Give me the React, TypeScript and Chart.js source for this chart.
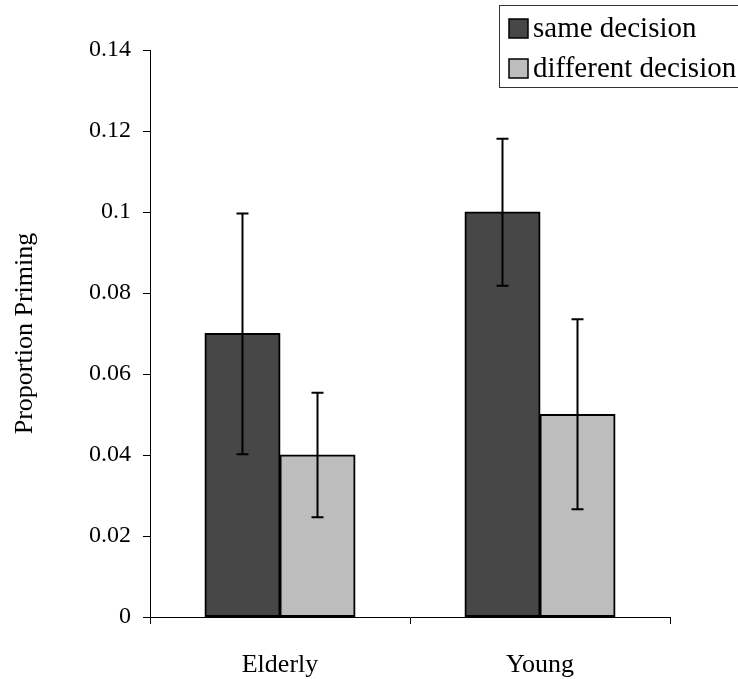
import React, { useEffect, useRef } from "react";
import { Chart, registerables } from "chart.js";

Chart.register(...registerables);

const categories = ["Elderly", "Young"];
const seriesNames = ["same decision", "different decision"];
const sameDecision = [0.07, 0.1];
const differentDecision = [0.04, 0.05];
const sameErrLow = [0.0402, 0.0818];
const sameErrHigh = [0.0996, 0.1181];
const diffErrLow = [0.0246, 0.0266];
const diffErrHigh = [0.0554, 0.0735];
const yMin = 0;
const yMax = 0.14;
const yStep = 0.02;

const DARK = "#474747";
const LIGHT = "#bdbdbd";
const FONT = "'Liberation Serif', 'Times New Roman', serif";

const errorBarPlugin = {
  id: "errorBars",
  afterDatasetsDraw(chart: any) {
    const ctx = chart.ctx;
    const yScale = chart.scales.y;
    const lows = [sameErrLow, diffErrLow];
    const highs = [sameErrHigh, diffErrHigh];
    ctx.save();
    ctx.strokeStyle = "#000";
    ctx.lineWidth = 2;
    chart.data.datasets.forEach((_ds: any, i: number) => {
      const meta = chart.getDatasetMeta(i);
      meta.data.forEach((bar: any, j: number) => {
        const x = bar.x;
        const yl = yScale.getPixelForValue(lows[i][j]);
        const yh = yScale.getPixelForValue(highs[i][j]);
        ctx.beginPath();
        ctx.moveTo(x, yl);
        ctx.lineTo(x, yh);
        ctx.moveTo(x - 6, yl);
        ctx.lineTo(x + 6, yl);
        ctx.moveTo(x - 6, yh);
        ctx.lineTo(x + 6, yh);
        ctx.stroke();
      });
    });
    ctx.restore();
  },
};

const boxLegendPlugin = {
  id: "boxLegend",
  afterDraw(chart: any) {
    const ctx = chart.ctx;
    ctx.save();
    const left = 499.5;
    const top = 5.5;
    const bottom = 87.5;
    ctx.fillStyle = "#fff";
    ctx.fillRect(left, top, 260, bottom - top);
    ctx.strokeStyle = "#333";
    ctx.lineWidth = 1;
    ctx.strokeRect(left, top, 260, bottom - top);
    ctx.font = `29px ${FONT}`;
    ctx.textBaseline = "middle";
    ctx.textAlign = "left";
    chart.data.datasets.forEach((ds: any, i: number) => {
      const cy = 28 + i * 40;
      ctx.fillStyle = ds.backgroundColor;
      ctx.fillRect(509, cy - 9, 19, 19);
      ctx.strokeStyle = "#000";
      ctx.lineWidth = 1.5;
      ctx.strokeRect(509, cy - 9, 19, 19);
      ctx.fillStyle = "#000";
      ctx.fillText(ds.label, 533, cy + 1);
    });
    ctx.restore();
  },
};

export default function App() {
  const canvasRef = useRef<HTMLCanvasElement | null>(null);

  useEffect(() => {
    if (!canvasRef.current) return;
    const chart = new Chart(canvasRef.current, {
      type: "bar",
      data: {
        labels: categories,
        datasets: [
          {
            label: seriesNames[0],
            data: sameDecision,
            backgroundColor: DARK,
            borderColor: "#000",
            borderWidth: 2,
            borderSkipped: false,
            inflateAmount: 0.5,
            categoryPercentage: 0.577,
            barPercentage: 1,
          },
          {
            label: seriesNames[1],
            data: differentDecision,
            backgroundColor: LIGHT,
            borderColor: "#000",
            borderWidth: 2,
            borderSkipped: false,
            inflateAmount: 0.5,
            categoryPercentage: 0.577,
            barPercentage: 1,
          },
        ],
      },
      options: {
        animation: false,
        responsive: false,
        maintainAspectRatio: false,
        layout: { padding: { top: 50, right: 68, left: 0, bottom: 0 } },
        plugins: {
          legend: { display: false },
          tooltip: { enabled: false },
        },
        scales: {
          x: {
            offset: true,
            afterFit: (s: any) => {
              s.height = 62;
            },
            grid: {
              offset: true,
              drawOnChartArea: false,
              drawTicks: true,
              tickLength: 7,
              color: "#000",
            },
            border: { display: true, color: "#000", width: 1 },
            ticks: {
              color: "#000",
              padding: 26,
              font: { family: FONT, size: 26 },
            },
          },
          y: {
            min: yMin,
            max: yMax,
            afterFit: (s: any) => {
              s.width = 150;
            },
            grid: {
              drawOnChartArea: false,
              drawTicks: true,
              tickLength: 7,
              color: "#000",
            },
            border: { display: true, color: "#000", width: 1 },
            ticks: {
              stepSize: yStep,
              color: "#000",
              padding: 12,
              font: { family: FONT, size: 24 },
              callback: (v: any) => String(Number(Number(v).toFixed(2))),
            },
            title: {
              display: true,
              text: "Proportion Priming",
              color: "#000",
              font: { family: FONT, size: 26, weight: "normal" },
              padding: { top: 10, bottom: 0 },
            },
          },
        },
      },
      plugins: [errorBarPlugin, boxLegendPlugin],
    });
    return () => chart.destroy();
  }, []);

  return (
    <div style={{ position: "fixed", left: 0, top: 0, width: 738, height: 679, background: "#fff" }}>
      <canvas ref={canvasRef} width={738} height={679} style={{ width: 738, height: 679, display: "block" }} />
    </div>
  );
}
